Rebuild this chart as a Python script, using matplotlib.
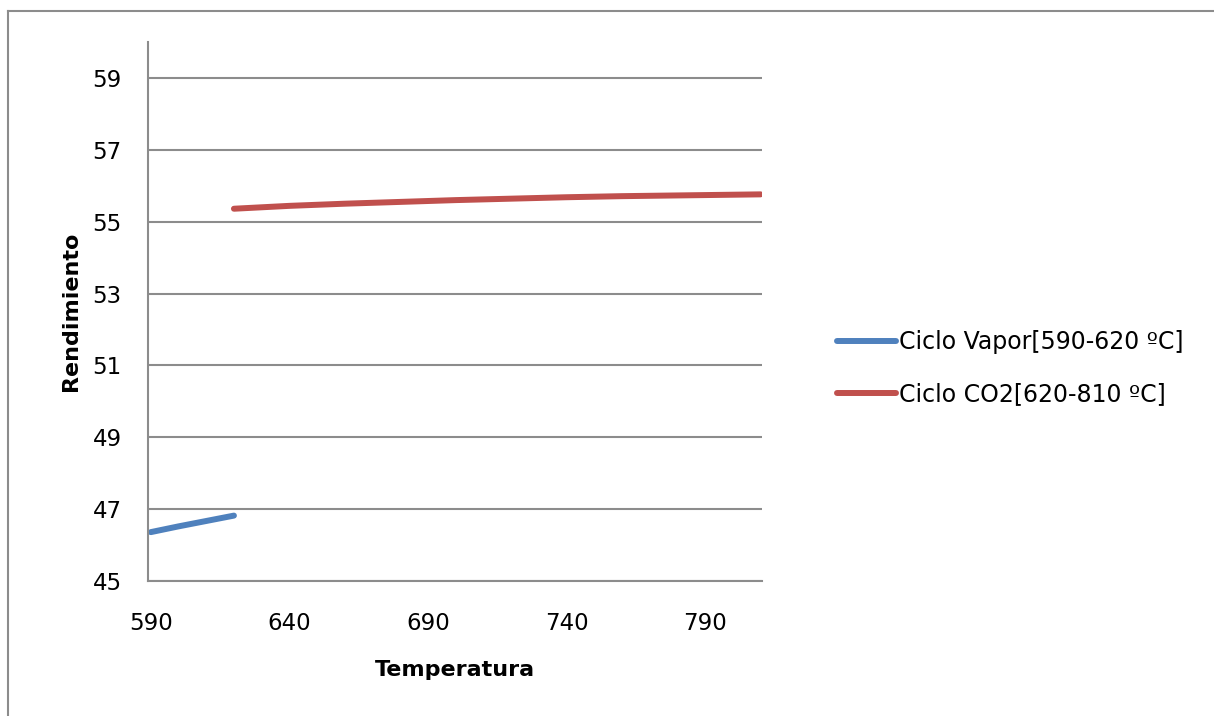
import matplotlib
matplotlib.use("Agg")
import matplotlib.pyplot as plt
from matplotlib.lines import Line2D

# ---- Data -------------------------------------------------------------------
vapor_temp = [590, 600, 610, 620]
vapor_eff = [46.36, 46.52, 46.67, 46.82]

co2_temp = [620, 640, 660, 680, 700, 720, 740, 760, 780, 800, 810]
co2_eff = [55.36, 55.44, 55.50, 55.55, 55.60, 55.64, 55.68, 55.71, 55.73, 55.75, 55.76]

x_ticks = [590, 640, 690, 740, 790]
y_ticks = [45, 47, 49, 51, 53, 55, 57, 59]

BLUE = "#4F81BD"
RED = "#C0504D"
GRID = "#8C8C8C"

plt.rcParams["font.family"] = ["DejaVu Sans"]

W, H = 1214, 716
fig = plt.figure(figsize=(W / 100, H / 100), dpi=100)
fig.patch.set_facecolor("white")

# outer chart-area frame (only top/left edges fall inside the image)
fig.add_artist(Line2D([8 / W, 8 / W], [0, 1 - 11 / H], transform=fig.transFigure,
                      color=GRID, lw=1.5))
fig.add_artist(Line2D([8 / W, 1], [1 - 11 / H, 1 - 11 / H], transform=fig.transFigure,
                      color=GRID, lw=1.5))

ax = fig.add_axes([148 / W, 1 - 581 / H, (762 - 148) / W, (581 - 42) / H])

ax.plot(vapor_temp, vapor_eff, color=BLUE, lw=4.3, solid_capstyle="round",
        label="Ciclo Vapor[590-620 ºC]")
ax.plot(co2_temp, co2_eff, color=RED, lw=4.3, solid_capstyle="round",
        label="Ciclo CO2[620-810 ºC]")

ax.set_xlim(589, 810.5)
ax.set_ylim(45, 60)
ax.set_xticks(x_ticks)
ax.set_yticks(y_ticks)
ax.tick_params(axis="both", length=0, labelsize=16.5, colors="#000000")
ax.tick_params(axis="x", pad=22)
ax.tick_params(axis="y", pad=19)

ax.grid(True, axis="y", color=GRID, lw=1.5)
ax.set_axisbelow(True)
for side in ["top", "right"]:
    ax.spines[side].set_visible(False)
for side in ["left", "bottom"]:
    ax.spines[side].set_color(GRID)
    ax.spines[side].set_linewidth(1.5)

ax.set_xlabel("Temperatura", fontsize=16, fontweight="bold", labelpad=18)
ax.set_ylabel("Rendimiento", fontsize=16, fontweight="bold", labelpad=8)

fig.legend(loc="center left", bbox_to_anchor=(828 / W, 1 - 368 / H),
           frameon=False, fontsize=17, handlelength=2.5, handletextpad=0.12,
           labelspacing=1.2, borderaxespad=0)

fig.savefig("out.png", dpi=100)
